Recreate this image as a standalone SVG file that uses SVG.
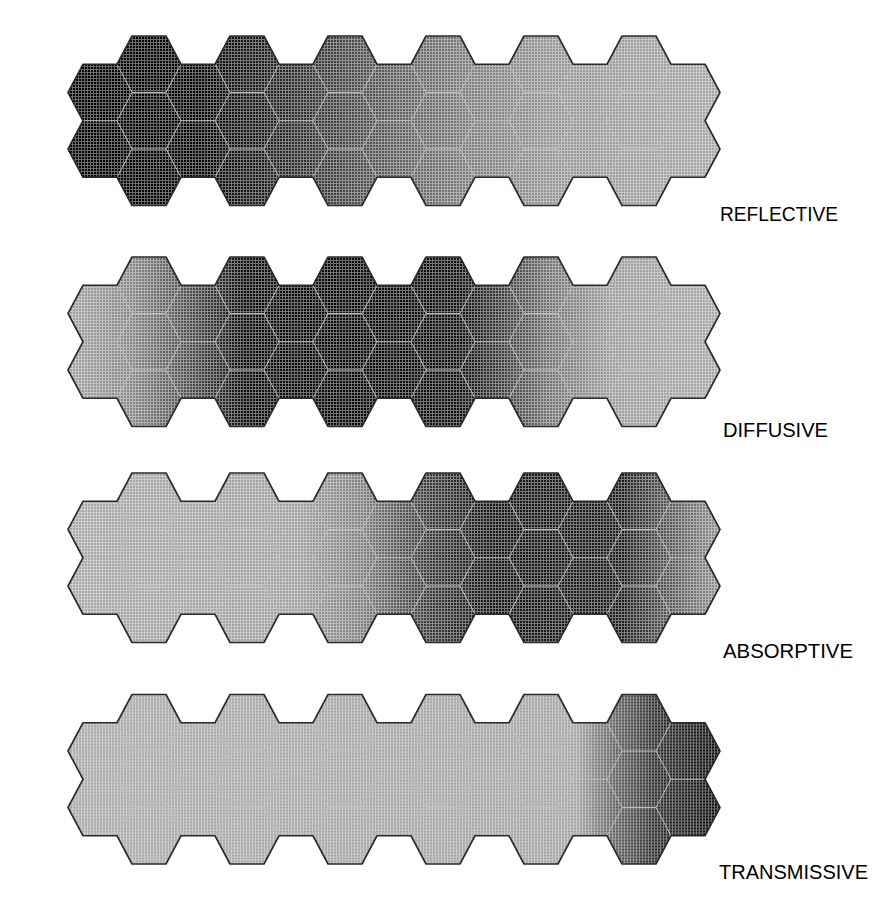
<svg xmlns="http://www.w3.org/2000/svg" xmlns:xlink="http://www.w3.org/1999/xlink" width="876" height="902" viewBox="0 0 876 902">
<style>
.outline{stroke:#2a2a2a;stroke-width:1.6;stroke-linejoin:round}
.inner{fill:none;stroke:#bdbdbd;stroke-width:1}
.label{font-family:"Liberation Sans",Arial,sans-serif;font-size:21px;fill:#000}
</style>
<defs>
<pattern id="dots" width="3" height="3" patternUnits="userSpaceOnUse">
<path d="M0,0.5H3M0.5,0V3" stroke="#fff" stroke-width="1" opacity="0.42"/>
</pattern>
<path id="shape" d="M68,56.5 L83,28.25 L117,28.25 L132,0 L166,0 L181,28.25 L215,28.25 L230,0 L264,0 L279,28.25 L313,28.25 L328,0 L362,0 L377,28.25 L411,28.25 L426,0 L460,0 L475,28.25 L509,28.25 L524,0 L558,0 L573,28.25 L607,28.25 L622,0 L656,0 L671,28.25 L705,28.25 L720,56.5 L705,84.75 L720,113 L705,141.25 L671,141.25 L656,169.5 L622,169.5 L607,141.25 L573,141.25 L558,169.5 L524,169.5 L509,141.25 L475,141.25 L460,169.5 L426,169.5 L411,141.25 L377,141.25 L362,169.5 L328,169.5 L313,141.25 L279,141.25 L264,169.5 L230,169.5 L215,141.25 L181,141.25 L166,169.5 L132,169.5 L117,141.25 L83,141.25 L68,113 L83,84.75 Z"/>
<path id="cells" class="inner" d="M117,28.25 L132,56.5 L117,84.75 L132,113 L117,141.25 M181,28.25 L166,56.5 L181,84.75 L166,113 L181,141.25 M215,28.25 L230,56.5 L215,84.75 L230,113 L215,141.25 M279,28.25 L264,56.5 L279,84.75 L264,113 L279,141.25 M313,28.25 L328,56.5 L313,84.75 L328,113 L313,141.25 M377,28.25 L362,56.5 L377,84.75 L362,113 L377,141.25 M411,28.25 L426,56.5 L411,84.75 L426,113 L411,141.25 M475,28.25 L460,56.5 L475,84.75 L460,113 L475,141.25 M509,28.25 L524,56.5 L509,84.75 L524,113 L509,141.25 M573,28.25 L558,56.5 L573,84.75 L558,113 L573,141.25 M607,28.25 L622,56.5 L607,84.75 L622,113 L607,141.25 M671,28.25 L656,56.5 L671,84.75 L656,113 L671,141.25 M83,84.75H117 M132,56.5H166 M132,113H166 M181,84.75H215 M230,56.5H264 M230,113H264 M279,84.75H313 M328,56.5H362 M328,113H362 M377,84.75H411 M426,56.5H460 M426,113H460 M475,84.75H509 M524,56.5H558 M524,113H558 M573,84.75H607 M622,56.5H656 M622,113H656 M671,84.75H705"/>
<linearGradient id="gReflective" gradientUnits="userSpaceOnUse" x1="68" y1="0" x2="720" y2="0">
<stop offset="0" stop-color="#000000"/>
<stop offset="0.2" stop-color="#050505"/>
<stop offset="0.3" stop-color="#1e1e1e"/>
<stop offset="0.45" stop-color="#4e4e4e"/>
<stop offset="0.6" stop-color="#7a7a7a"/>
<stop offset="0.75" stop-color="#969696"/>
<stop offset="1" stop-color="#a6a6a6"/>
</linearGradient>
<linearGradient id="gDiffusive" gradientUnits="userSpaceOnUse" x1="68" y1="0" x2="720" y2="0">
<stop offset="0" stop-color="#a2a2a2"/>
<stop offset="0.1" stop-color="#868686"/>
<stop offset="0.2" stop-color="#444444"/>
<stop offset="0.27" stop-color="#0e0e0e"/>
<stop offset="0.45" stop-color="#0a0a0a"/>
<stop offset="0.6" stop-color="#121212"/>
<stop offset="0.67" stop-color="#404040"/>
<stop offset="0.74" stop-color="#747474"/>
<stop offset="0.83" stop-color="#9c9c9c"/>
<stop offset="1" stop-color="#a8a8a8"/>
</linearGradient>
<linearGradient id="gAbsorptive" gradientUnits="userSpaceOnUse" x1="68" y1="0" x2="720" y2="0">
<stop offset="0" stop-color="#a8a8a8"/>
<stop offset="0.35" stop-color="#a0a0a0"/>
<stop offset="0.45" stop-color="#808080"/>
<stop offset="0.55" stop-color="#3c3c3c"/>
<stop offset="0.65" stop-color="#161616"/>
<stop offset="0.85" stop-color="#1e1e1e"/>
<stop offset="0.93" stop-color="#5e5e5e"/>
<stop offset="1" stop-color="#929292"/>
</linearGradient>
<linearGradient id="gTransmissive" gradientUnits="userSpaceOnUse" x1="68" y1="0" x2="720" y2="0">
<stop offset="0" stop-color="#a8a8a8"/>
<stop offset="0.78" stop-color="#a2a2a2"/>
<stop offset="0.84" stop-color="#5e5e5e"/>
<stop offset="0.9" stop-color="#2a2a2a"/>
<stop offset="1" stop-color="#080808"/>
</linearGradient>
</defs>
<rect width="876" height="902" fill="#fff"/>

<g id="reflective" transform="translate(0,36)">
<use xlink:href="#shape" fill="url(#gReflective)"/>
<use xlink:href="#shape" fill="url(#dots)"/>
<use xlink:href="#cells"/>
<use xlink:href="#shape" class="outline" fill="none"/>
</g>
<g id="diffusive" transform="translate(0,257)">
<use xlink:href="#shape" fill="url(#gDiffusive)"/>
<use xlink:href="#shape" fill="url(#dots)"/>
<use xlink:href="#cells"/>
<use xlink:href="#shape" class="outline" fill="none"/>
</g>
<g id="absorptive" transform="translate(0,473)">
<use xlink:href="#shape" fill="url(#gAbsorptive)"/>
<use xlink:href="#shape" fill="url(#dots)"/>
<use xlink:href="#cells"/>
<use xlink:href="#shape" class="outline" fill="none"/>
</g>
<g id="transmissive" transform="translate(0,694.5)">
<use xlink:href="#shape" fill="url(#gTransmissive)"/>
<use xlink:href="#shape" fill="url(#dots)"/>
<use xlink:href="#cells"/>
<use xlink:href="#shape" class="outline" fill="none"/>
</g>

<g id="labels">
<text class="label" x="720" y="221" textLength="118" lengthAdjust="spacingAndGlyphs">REFLECTIVE</text>
<text class="label" x="723" y="437" textLength="105" lengthAdjust="spacingAndGlyphs">DIFFUSIVE</text>
<text class="label" x="723" y="658" textLength="130" lengthAdjust="spacingAndGlyphs">ABSORPTIVE</text>
<text class="label" x="719" y="879" textLength="149" lengthAdjust="spacingAndGlyphs">TRANSMISSIVE</text>
</g>
</svg>
